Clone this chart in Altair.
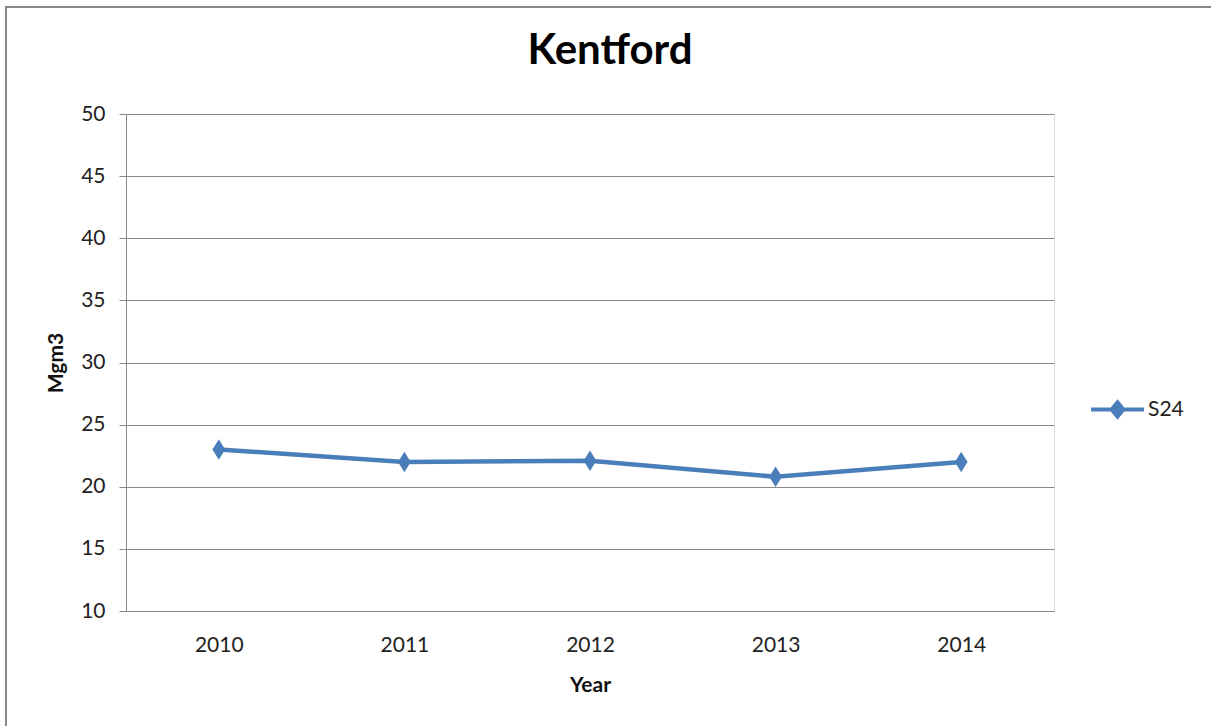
import altair as alt
import pandas as pd

years = ["2010", "2011", "2012", "2013", "2014"]
s24 = [23.0, 22.0, 22.1, 20.8, 22.0]
series = ["S24"] * len(years)

df = pd.DataFrame({"Year": years, "Value": s24, "Series": series})

BLUE = "#4A7EBB"
FONT = "Lato"
LBL = 21

diamond_tall = "M0,-1L0.62,0L0,1L-0.62,0Z"
legend_sym = "M-1,0H1M0,-0.27L0.22,0L0,0.27L-0.22,0Z"

x_enc = alt.X(
    "Year:O",
    sort=years,
    scale=alt.Scale(type="point", padding=0.5),
    axis=alt.Axis(
        title="Year", labelAngle=0, ticks=False, domainColor="#888888",
        labelFontSize=LBL, labelFont=FONT, labelColor="#222222", labelPadding=23,
        titleFontSize=LBL, titleFont=FONT, titleFontWeight="bold", titleColor="#111111",
        titlePadding=19, grid=False,
    ),
)
y_enc = alt.Y(
    "Value:Q",
    scale=alt.Scale(domain=[10, 50], nice=False, zero=False),
    axis=alt.Axis(
        title="Mgm3", values=list(range(10, 51, 5)), tickSize=7, tickColor="#888888",
        domainColor="#888888", gridColor="#888888", gridWidth=1,
        labelFontSize=LBL, labelFont=FONT, labelColor="#222222", labelPadding=14,
        titleFontSize=LBL, titleFont=FONT, titleFontWeight="bold", titleColor="#111111",
        titlePadding=14,
    ),
)

color_enc = alt.Color(
    "Series:N",
    scale=alt.Scale(range=[BLUE]),
    legend=alt.Legend(
        title=None, orient="none", legendX=963, legendY=267,
        symbolType=legend_sym, symbolSize=2800, symbolStrokeWidth=4,
        symbolFillColor=BLUE, symbolStrokeColor=BLUE,
        labelFontSize=LBL, labelFont=FONT, labelColor="#222222", labelOffset=2,
    ),
)

line = alt.Chart(df).mark_line(strokeWidth=4.5, color=BLUE).encode(
    x=x_enc, y=y_enc, color=color_enc
)
pts = alt.Chart(df).mark_point(
    shape=diamond_tall, size=420, filled=True, opacity=1, color=BLUE
).encode(x=alt.X("Year:O", sort=years), y="Value:Q")

frame = alt.Chart(df).mark_rect(
    fill=None, stroke="#888888", strokeWidth=2, clip=False
).encode(
    x=alt.value(-120), x2=alt.value(1100), y=alt.value(-107), y2=alt.value(640)
)

chart = alt.layer(frame, line, pts).properties(
    width=928,
    height=497,
    autosize=alt.AutoSizeParams(type="none"),
    padding={"left": 126, "top": 114, "right": 157, "bottom": 115},
    title=alt.TitleParams(
        "Kentford", fontSize=42, font=FONT, fontWeight="bold", color="#000000",
        anchor="middle", dx=20, offset=0, dy=100, baseline="alphabetic",
    ),
).configure_view(stroke=None).configure(background="white")

chart.save("out.html", embed_options={"renderer": "svg", "actions": False})
